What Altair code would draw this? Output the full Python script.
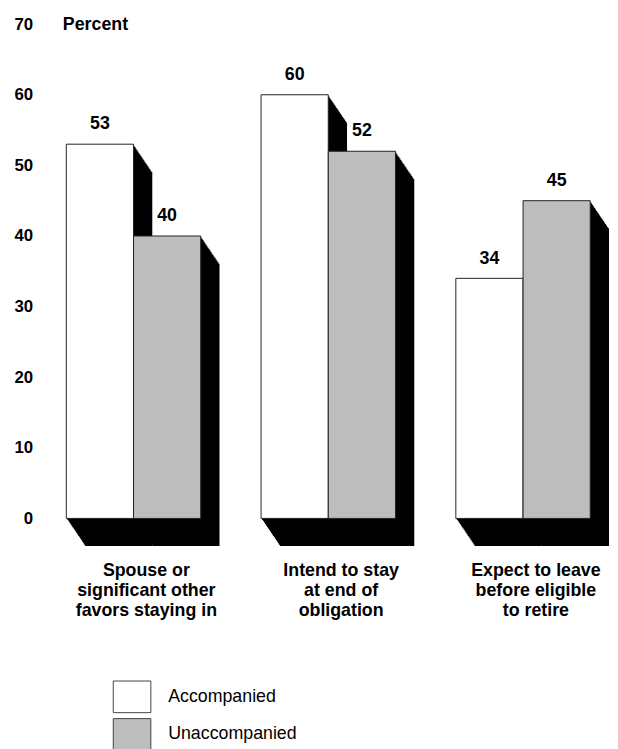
import altair as alt
import pandas as pd

# ---- data ----
category_lines = [
    ["Spouse or", "significant other", "favors staying in"],
    ["Intend to stay", "at end of", "obligation"],
    ["Expect to leave", "before eligible", "to retire"],
]
series_names = ["Accompanied", "Unaccompanied"]
accompanied = [53, 60, 34]
unaccompanied = [40, 52, 45]
y_ticks = [0, 10, 20, 30, 40, 50, 60, 70]

categories = ["|".join(lines) for lines in category_lines]
rows = []
for cat, a, u in zip(categories, accompanied, unaccompanied):
    rows.append({"category": cat, "series": series_names[0], "value": a})
    rows.append({"category": cat, "series": series_names[1], "value": u})
df = pd.DataFrame(rows)

# ---- style ----
FONT = "Liberation Sans"
HALF = 34          # half of a bar's width, px
DX, DY = 19, 28    # depth of the 3-D shadow, px
GRAY = "#bdbdbd"

x_enc = alt.X(
    "category:N",
    sort=categories,
    scale=alt.Scale(paddingInner=0.31, paddingOuter=0),
    axis=alt.Axis(
        title=None, labelExpr="split(datum.label, '|')", labelAngle=0,
        labelFont=FONT, labelFontSize=18, labelFontWeight="bold", labelColor="black",
        labelLineHeight=20, labelPadding=44, labelOffset=13, labelBaseline="top",
        ticks=False, domain=False, grid=False,
    ),
)
y_enc = alt.Y(
    "value:Q",
    stack=False,
    scale=alt.Scale(domain=[0, 70], nice=False),
    axis=alt.Axis(
        values=y_ticks, title="Percent", titleAngle=0, titleX=-4, titleY=0,
        titleAlign="left", titleBaseline="middle", titleFont=FONT, titleFontSize=18,
        titleFontWeight="bold", titleColor="black",
        labelFont=FONT, labelFontSize=17, labelFontWeight="bold", labelColor="black",
        labelPadding=34, ticks=False, domain=False, grid=False,
    ),
)

legend = alt.Legend(
    title=None, orient="none", legendX=47, legendY=661,
    symbolType="M-1,-0.842L1,-0.842L1,0.842L-1,0.842Z", symbolSize=1444,
    symbolStrokeColor="#444", symbolStrokeWidth=1,
    labelFont=FONT, labelFontSize=18, labelColor="black", labelOffset=17,
    rowPadding=0, padding=0,
)

base = alt.Chart(df)
offsets = [(series_names[0], -HALF), (series_names[1], HALF)]

layers = []
# black extruded shadow: a sweep of offset copies of each bar
for s, off in offsets:
    for k in range(1, DX + 1):
        dyk = k * DY / DX
        layers.append(
            base.transform_filter(alt.datum.series == s)
            .mark_bar(width={"band": 0.5}, color="black", xOffset=off + k,
                      yOffset=dyk, y2Offset=dyk)
            .encode(x=x_enc, y=y_enc, y2=alt.datum(0))
        )

# front faces of the bars
for s, off in offsets:
    layers.append(
        base.transform_filter(alt.datum.series == s)
        .mark_bar(width={"band": 0.5}, xOffset=off, stroke="#222", strokeWidth=1)
        .encode(
            x=x_enc, y=y_enc,
            color=alt.Color("series:N",
                            scale=alt.Scale(domain=series_names, range=["white", GRAY]),
                            legend=legend),
        )
    )

# value labels
for s, off in offsets:
    layers.append(
        base.transform_filter(alt.datum.series == s)
        .mark_text(xOffset=off, dy=-15, baseline="alphabetic", font=FONT,
                   fontSize=18, fontWeight="bold", color="black")
        .encode(x=x_enc, y=y_enc, text="value:Q")
    )

chart = (
    alt.layer(*layers)
    .properties(width=530, height=500,
                padding={"left": 6, "top": 3, "right": 0, "bottom": 0},
                background="white")
    .configure_view(strokeWidth=0)
)

chart.save("out.html", embed_options={"renderer": "svg", "actions": False})
